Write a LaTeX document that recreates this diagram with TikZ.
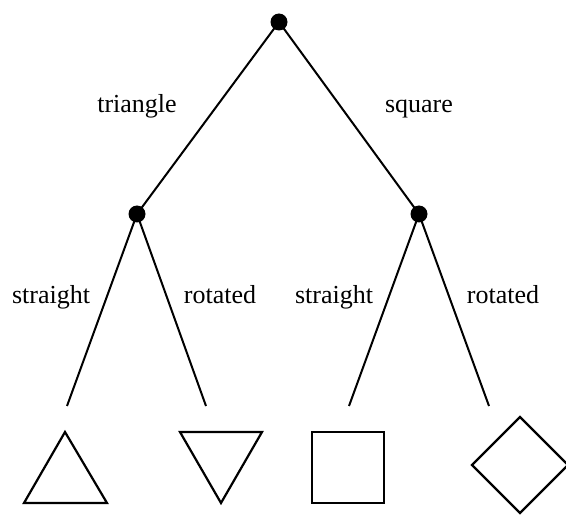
\documentclass[tikz,border=0pt]{standalone}
\usepackage{fontspec}
\setmainfont{Liberation Serif}
\begin{document}
\begin{tikzpicture}[x=1pt,y=-1pt,
  dot/.style={circle,fill=black,inner sep=0pt,minimum size=17pt},
  edge/.style={line width=2pt},
  figline/.style={line width=2.2pt,line join=miter},
  lbl/.style={font=\fontsize{26}{30}\selectfont,inner sep=0pt,anchor=base}]
\useasboundingbox (0,0) rectangle (566,516);
\node[dot] (root) at (279,22) {};
\node[dot] (L) at (137,214) {};
\node[dot] (R) at (419,214) {};
\coordinate (LL) at (67,406);
\coordinate (LR) at (206,406);
\coordinate (RL) at (349,406);
\coordinate (RR) at (489,406);
\draw[edge] (root.center) -- (L.center);
\draw[edge] (root.center) -- (R.center);
\draw[edge] (L.center) -- (LL);
\draw[edge] (L.center) -- (LR);
\draw[edge] (R.center) -- (RL);
\draw[edge] (R.center) -- (RR);
\node[lbl] (t1) at (137,113) {triangle};
\node[lbl] (t2) at (419,113) {square};
\node[lbl] (t3) at (51,304) {straight};
\node[lbl] (t4) at (220,304) {rotated};
\node[lbl] (t5) at (334,304) {straight};
\node[lbl] (t6) at (503,304) {rotated};
\draw[figline] (65,432) -- (107,503) -- (24,503) -- cycle;
\draw[figline] (180,432) -- (262,432) -- (221,503) -- cycle;
\draw[figline] (312,432) rectangle (384,503);
\draw[figline] (520,417) -- (568,465) -- (520,513) -- (472,465) -- cycle;
\end{tikzpicture}
\end{document}
